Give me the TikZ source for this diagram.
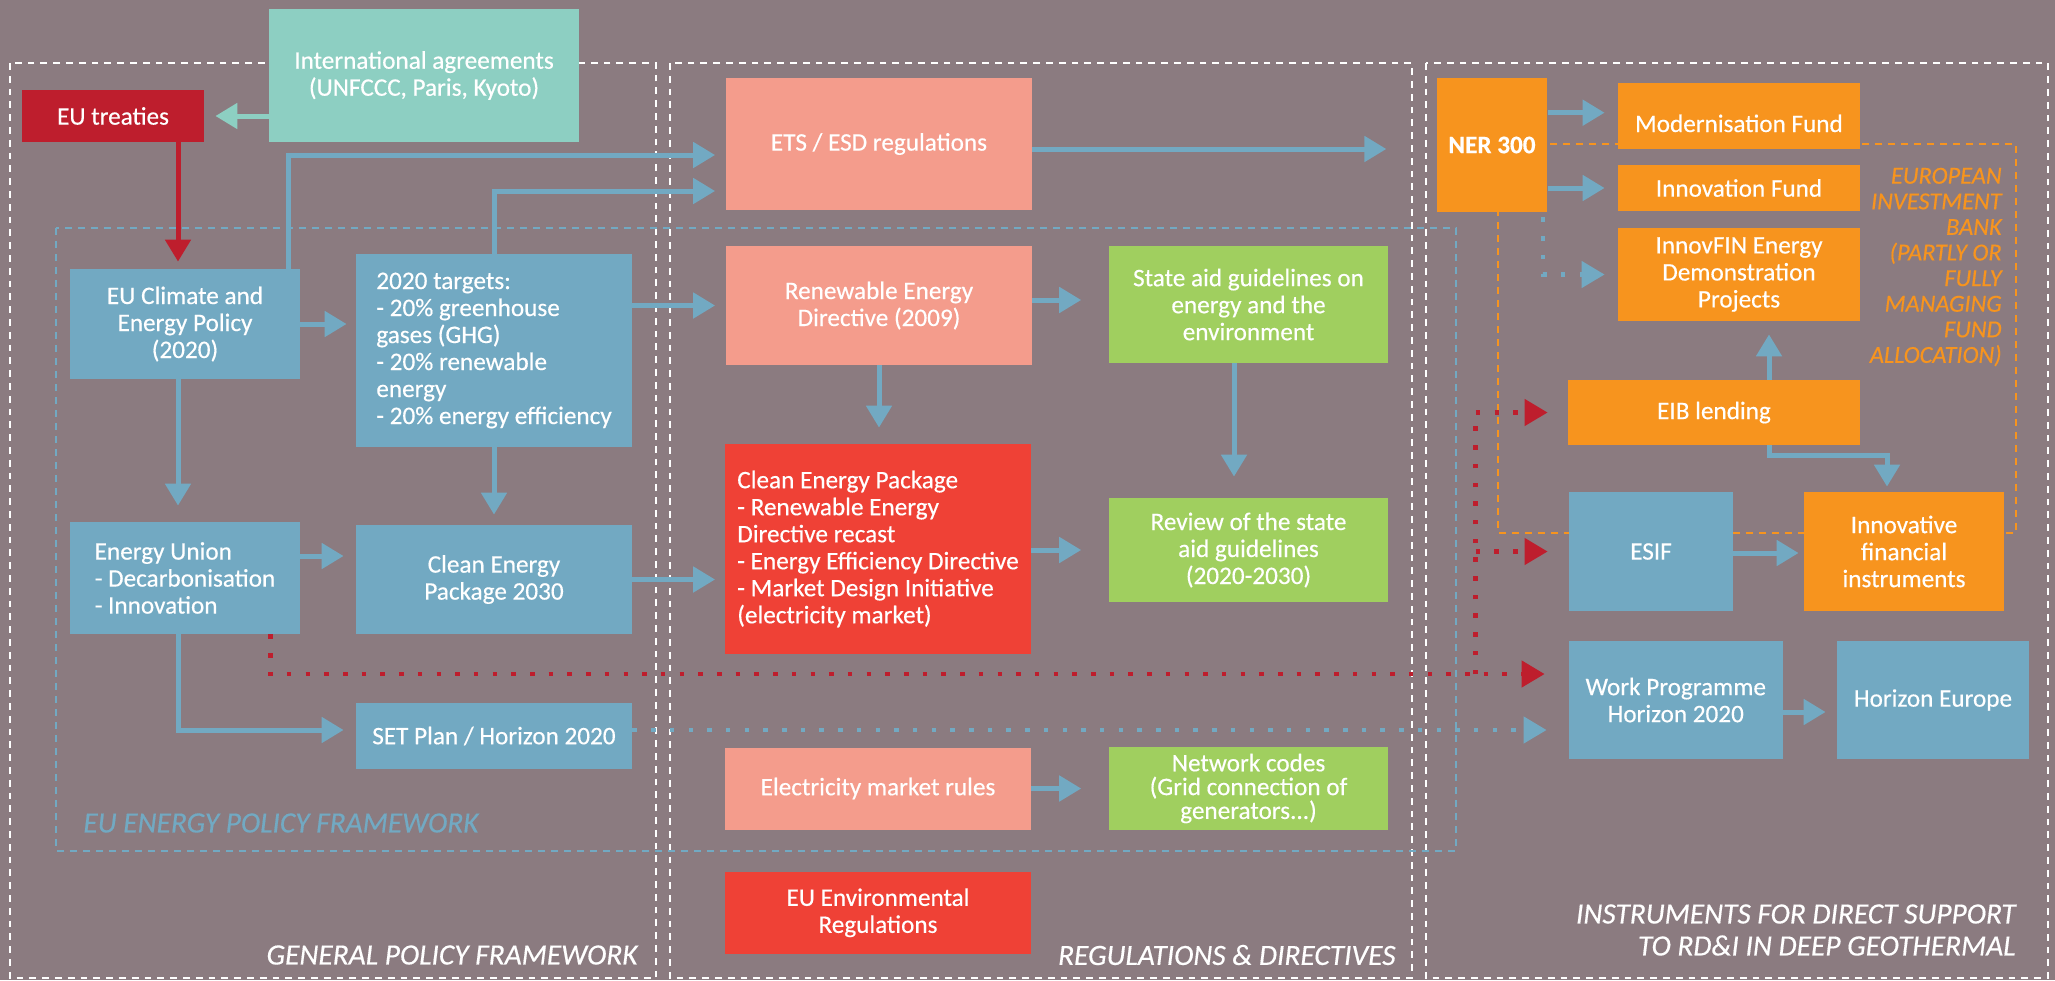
\documentclass[tikz,border=0pt]{standalone}
\usepackage{fontspec}
\setmainfont{Carlito}[FakeBold=0.4]
\usetikzlibrary{arrows.meta}
\definecolor{bgmauve}{RGB}{139,123,128}
\definecolor{tealbox}{RGB}{141,207,194}
\definecolor{treatyred}{RGB}{190,30,45}
\definecolor{bluebox}{RGB}{114,169,194}
\definecolor{salmonbox}{RGB}{244,156,140}
\definecolor{greenbox}{RGB}{160,207,95}
\definecolor{redbox}{RGB}{239,65,54}
\definecolor{orangebox}{RGB}{247,148,30}
\tikzset{
	%Define style for boxes
	punkt/.style={
	       rectangle,
	       inner sep=2pt,
	       text=white,
	       align=center,
	       font=\fontsize{12.6pt}{13.5pt}\selectfont},
	punktteal/.style={punkt, fill=tealbox},
	punkttreaty/.style={punkt, fill=treatyred},
	punktblue/.style={punkt, fill=bluebox},
	punktsalmon/.style={punkt, fill=salmonbox},
	punktred/.style={punkt, fill=redbox},
	punktgreen/.style={punkt, fill=greenbox},
	punktorange/.style={punkt, fill=orangebox},
	sz/.style 2 args={minimum width=#1, minimum height=#2},
	% frame labels
	rammelbl/.style={inner sep=0pt, font=\fontsize{14.7pt}{16pt}\selectfont\itshape},
	eiblbl/.style={inner sep=0pt, text=orangebox, align=right,
	       font=\fontsize{12.2pt}{12.8pt}\selectfont\itshape},
	% dashed frames
	ramme/.style={draw=white, line width=1.4pt, dash pattern=on 3.4pt off 3pt},
	rammeblue/.style={draw=bluebox, line width=1.3pt, dash pattern=on 3.5pt off 3pt},
	rammeorange/.style={draw=orangebox, line width=1.3pt, dash pattern=on 3.5pt off 3pt},
	% Define arrow style
	pil/.style={
	       -{Triangle[length=11pt,width=12.5pt]},
	       line width=2.5pt,
	       draw=bluebox,
	       shorten >=5pt},
	pilteal/.style={pil, draw=tealbox},
	pilred/.style={pil, draw=treatyred},
	dotblue/.style={
	       -{Triangle[length=11.5pt,width=13pt]},
	       draw=bluebox,
	       line width=2.25pt,
	       dash pattern=on 2.25pt off 7.1pt},
	dotred/.style={dotblue, draw=treatyred}
}
\begin{document}
\begin{tikzpicture}[x=0.5pt, y=-0.5pt] % y runs downwards
		\useasboundingbox (0,0) rectangle (2055,980);
		\fill[bgmauve] (0,0) rectangle (2055,980);
		% frames
		\draw[ramme] (10,63) rectangle (656,978);
		\draw[ramme] (670,63) rectangle (1412,978);
		\draw[ramme] (1426,63) rectangle (2048,978);
		\draw[rammeblue] (56,228) rectangle (1456,851);
		\draw[rammeorange] (1498,144) rectangle (2016,533);
		\node[rammelbl, text=white, anchor=east] (genlbl) at (638,955) {GENERAL POLICY FRAMEWORK};
		\node[rammelbl, text=white, anchor=east] (reglbl) at (1396,955) {REGULATIONS \& DIRECTIVES};
		\node[rammelbl, text=white, anchor=east, align=right] (instrlbl) at (2016,930) {INSTRUMENTS FOR DIRECT SUPPORT\\TO RD\&I IN DEEP GEOTHERMAL};
		\node[rammelbl, text=bluebox, anchor=west] (eulbl) at (83,823) {EU ENERGY POLICY FRAMEWORK};
		\node[eiblbl, anchor=east] (eibtxt) at (2002,267) {EUROPEAN\\INVESTMENT\\BANK\\(PARTLY OR\\FULLY\\MANAGING\\FUND\\ALLOCATION)};
		% general policy framework
		\node[punktteal, sz={155pt}{66.5pt}] (intl) at (424,75.5) {International agreements\\(UNFCCC, Paris, Kyoto)};
		\node[punkttreaty, sz={91pt}{26pt}] (treaties) at (113,116) {EU treaties};
		\node[punktblue, sz={115pt}{55pt}] (climate) at (185,324) {EU Climate and\\Energy Policy\\(2020)};
		\node[punktblue, sz={138pt}{96.5pt}, align=left] (targets) at (494,350.5) {2020 targets:\\- 20\% greenhouse\\gases (GHG)\\- 20\% renewable\\energy\\- 20\% energy efficiency};
		\node[punktblue, sz={115pt}{56pt}, align=left] (union) at (185,578) {Energy Union\\- Decarbonisation\\- Innovation};
		\node[punktblue, sz={138pt}{54.5pt}] (cep30) at (494,579.5) {Clean Energy\\Package 2030};
		\node[punktblue, sz={138pt}{33pt}] (setplan) at (494,736) {SET Plan / Horizon 2020};
		% regulations and directives
		\node[punktsalmon, sz={153pt}{66pt}] (ets) at (879,144) {ETS / ESD regulations};
		\node[punktsalmon, sz={153pt}{59.5pt}] (red) at (879,305.5) {Renewable Energy\\Directive (2009)};
		\node[punktred, sz={153pt}{105pt}, align=left] (cep) at (878,549) {Clean Energy Package\\- Renewable Energy\\Directive recast\\- Energy Efficiency Directive\\- Market Design Initiative\\(electricity market)};
		\node[punktsalmon, sz={153pt}{41pt}] (elmarket) at (878,788.5) {Electricity market rules};
		\node[punktred, sz={153pt}{41.25pt}] (envreg) at (878,912.75) {EU Environmental\\Regulations};
		\node[punktgreen, sz={139.5pt}{58.5pt}] (stateaid) at (1248.5,304.5) {State aid guidelines on\\energy and the\\environment};
		\node[punktgreen, sz={139.5pt}{52pt}] (review) at (1248.5,550) {Review of the state\\aid guidelines\\(2020-2030)};
		\node[punktgreen, sz={139.5pt}{41.5pt}, font=\fontsize{12.6pt}{11.9pt}\selectfont] (netcodes) at (1248.5,788.5) {Network codes\\(Grid connection of\\generators...)};
		% instruments
		\node[punktorange, sz={55.25pt}{67pt}, font=\fontsize{12.6pt}{13.5pt}\selectfont\bfseries] (ner) at (1492,145) {NER 300};
		\node[punktorange, sz={121pt}{33pt}, text height=16pt, text depth=0pt] (modfund) at (1739,116) {Modernisation Fund};
		\node[punktorange, sz={121pt}{23pt}] (innofund) at (1739,188) {Innovation Fund};
		\node[punktorange, sz={121pt}{46.5pt}] (innovfin) at (1739,274.5) {InnovFIN Energy\\Demonstration\\Projects};
		\node[punktorange, sz={146pt}{32.5pt}] (eib) at (1714,412.5) {EIB lending};
		\node[punktblue, sz={82pt}{59.5pt}] (esif) at (1651,551.5) {ESIF};
		\node[punktorange, sz={100pt}{59.5pt}] (ifi) at (1904,551.5) {Innovative\\financial\\instruments};
		\node[punktblue, sz={106.75pt}{59pt}] (wp) at (1675.75,700) {Work Programme\\Horizon 2020};
		\node[punktblue, sz={96pt}{59pt}] (he) at (1933,700) {Horizon Europe};
		% connectors
		\draw[pilteal, shorten >=5.5pt] (intl.west |- treaties.east) -- (treaties.east);
		\draw[pilred, shorten >=3.5pt] ([xshift=-3.5pt]climate.north |- treaties.south) -- ([xshift=-3.5pt]climate.north);
		\draw[pil, shorten >=5.25pt] ([xshift=-6pt]climate.north east) |- ([yshift=-5.5pt]ets.west);
		\draw[pil, shorten >=5.25pt] (targets.north) |- ([yshift=-23.5pt]ets.west);
		\draw[pil, shorten >=25pt] ([yshift=-2.5pt]ets.east) -- ([yshift=-2.5pt]ets.east -| ner.west);
		\draw[pil, shorten >=4.5pt] (climate.east) -- (climate.east -| targets.west);
		\draw[pil, shorten >=5.25pt] (targets.east |- red.west) -- (red.west);
		\draw[pil, shorten >=8pt] ([xshift=-3.5pt]climate.south) -- ([xshift=-3.5pt]union.north);
		\draw[pil] (targets.south) -- (cep30.north);
		\draw[pil, shorten >=6pt] ([yshift=11pt]union.east) -- ([yshift=11pt]union.east -| cep30.west);
		\draw[pil, shorten >=4.75pt] (cep30.east) -- (cep30.east -| cep.west);
		\draw[pil, shorten >=6pt] ([xshift=-3.5pt]union.south) |- ([yshift=3pt]setplan.west);
		\draw[pil, shorten >=13.7pt] ([yshift=2.75pt]red.east) -- ([yshift=2.75pt]red.east -| stateaid.west);
		\draw[pil, shorten >=8pt] (red.south) -- (red.south |- cep.north);
		\draw[pil, shorten >=10.5pt] ([xshift=-7.25pt]stateaid.south) -- ([xshift=-7.25pt]review.north);
		\draw[pil, shorten >=13.7pt] (cep.east |- review.west) -- (review.west);
		\draw[pil, shorten >=13.7pt] (elmarket.east) -- (elmarket.east -| netcodes.west);
		\draw[pil, shorten >=6.5pt] ([yshift=1.65pt]ner.east |- modfund.west) -- ([yshift=1.65pt]modfund.west);
		\draw[pil, shorten >=6.5pt] (ner.east |- innofund.west) -- (innofund.west);
		\draw[dotblue, shorten <=2.5pt, shorten >=6.5pt] ([xshift=-2.25pt]ner.south east) |- (innovfin.west);
		\draw[pil, shorten >=6.5pt] ([xshift=27.5pt]eib.north) -- ([xshift=27.5pt]eib.north |- innovfin.south);
		\draw[pil, shorten >=2.5pt] ([xshift=27.5pt]eib.south) -- ++(0,10) -| ([xshift=-8.5pt]ifi.north);
		\draw[pil, shorten >=2.5pt] ([yshift=-0.75pt]esif.east) -- ([yshift=-0.75pt]ifi.west);
		\draw[pil, shorten >=5.5pt] ([yshift=-6pt]wp.east) -- ([yshift=-6pt]he.west);
		\draw[dotblue, shorten >=11pt] ([yshift=3pt]setplan.east) -- ([yshift=3pt]setplan.east -| wp.west);
		\draw[dotred, shorten >=12pt] ([xshift=-15pt]union.south east) |- ([yshift=13pt]wp.west);
		\coordinate (redknot) at ([xshift=-46.5pt,yshift=13pt]wp.west);
		\draw[dotred, shorten >=10pt] (redknot) |- (eib.west);
		\draw[dotred, shorten >=10.5pt] (redknot |- esif.west) -- (esif.west);
	\end{tikzpicture}
\end{document}
